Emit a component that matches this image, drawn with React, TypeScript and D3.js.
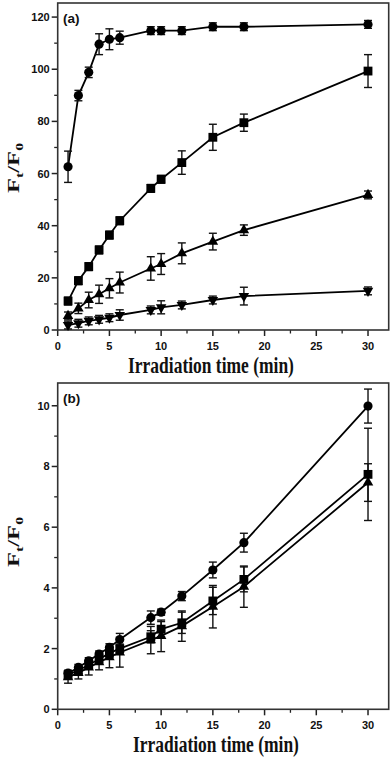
import React from "react";
import * as d3 from "d3";

// irradiation times (min)
const times = [1, 2, 3, 4, 5, 6, 9, 10, 12, 15, 18, 30];

// panel (a)
const circleA = [62.6, 89.9, 98.8, 109.6, 111.5, 112.1, 114.8, 114.8, 114.8, 116.3, 116.3, 117.2];
const circleAErr = [6, 2, 2, 4, 4, 2.5, 1.5, 1.5, 1.5, 1.5, 1.5, 1.5];
const squareA = [11.1, 18.9, 24.3, 30.7, 36.4, 41.9, 54.3, 57.8, 64.2, 73.9, 79.5, 99.3];
const squareAErr = [1.5, 1.5, 1.5, 1.5, 1.5, 1.5, 1.5, 1.5, 4.5, 5, 3.3, 6.3];
const triangleA = [5.4, 8.3, 11.5, 13.7, 16.0, 18.2, 23.6, 25.3, 29.4, 33.9, 38.3, 51.8];
const triangleAErr = [1.5, 2, 3, 3.5, 3.7, 4, 4.5, 4, 4, 3.2, 2, 1.5];
const invTriA = [1.9, 2.6, 3.5, 4.1, 4.7, 5.75, 7.7, 8.7, 9.6, 11.5, 13.0, 15.0];
const invTriAErr = [1.5, 1.5, 1.5, 1.5, 1.5, 2, 1.5, 2.5, 1.5, 1.5, 3.4, 1.5];

// panel (b)
const circleB = [1.19, 1.38, 1.6, 1.82, 2.04, 2.3, 3.02, 3.2, 3.73, 4.59, 5.49, 9.99];
const circleBErr = [0.1, 0.1, 0.1, 0.1, 0.12, 0.2, 0.22, 0.1, 0.15, 0.26, 0.31, 0.56];
const squareB = [1.14, 1.28, 1.47, 1.65, 1.85, 2.0, 2.39, 2.64, 2.85, 3.57, 4.28, 7.74];
const squareBErr = [0.1, 0.1, 0.1, 0.12, 0.15, 0.15, 0.2, 0.25, 0.35, 0.45, 0.41, 1.52];
const triangleB = [1.06, 1.2, 1.38, 1.55, 1.72, 1.87, 2.28, 2.42, 2.74, 3.38, 4.04, 7.47];
const triangleBErr = [0.2, 0.2, 0.25, 0.25, 0.35, 0.48, 0.45, 0.52, 0.5, 0.7, 0.68, 0.62];

const xTicks = [0, 5, 10, 15, 20, 25, 30];
const xMinor = [2.5, 7.5, 12.5, 17.5, 22.5, 27.5];
const yTicksA = [0, 20, 40, 60, 80, 100, 120];
const yMinorA = [10, 30, 50, 70, 90, 110];
const yTicksB = [0, 2, 4, 6, 8, 10];
const yMinorB = [1, 3, 5, 7, 9];

const W = 392;
const H = 763;
const tickFont = "'Liberation Sans', Arial, sans-serif";
const serif = "'Liberation Serif', 'Times New Roman', serif";

const symbols = {
  circle: d3.symbol().type(d3.symbolCircle).size(66)(),
  square: d3.symbol().type(d3.symbolSquare).size(78)(),
  triangle: d3.symbol().type(d3.symbolTriangle).size(48)(),
};

type Series = { vals: number[]; err: number[]; shape: string };

const Panel = ({ top, bottom, yMax, yTicks, yMinor, series, tag, yLabelY, titleX }) => {
  const left = 57.7;
  const right = 388.7;
  const x = d3.scaleLinear().domain([0, 32]).range([left, right]);
  const y = d3.scaleLinear().domain([0, yMax]).range([bottom, top]);
  const line = d3
    .line<number>()
    .x((d, i) => x(times[i]))
    .y((d) => y(d));

  return (
    <g>
      {/* axis ticks */}
      {xTicks.map((t) => (
        <g key={"xt" + t}>
          <line x1={x(t)} x2={x(t)} y1={bottom} y2={bottom + 6} stroke="#222" strokeWidth={1.5} />
          <text x={x(t)} y={bottom + 19.5} textAnchor="middle" fontFamily={tickFont} fontWeight="bold" fontSize={11} fill="#111">
            {t}
          </text>
        </g>
      ))}
      {xMinor.map((t) => (
        <line key={"xm" + t} x1={x(t)} x2={x(t)} y1={bottom} y2={bottom + 3.5} stroke="#222" strokeWidth={1.3} />
      ))}
      {yTicks.map((t) => (
        <g key={"yt" + t}>
          <line x1={left - 6} x2={left} y1={y(t)} y2={y(t)} stroke="#222" strokeWidth={1.5} />
          <text x={left - 8} y={y(t) + 4} textAnchor="end" fontFamily={tickFont} fontWeight="bold" fontSize={11} fill="#111">
            {t}
          </text>
        </g>
      ))}
      {yMinor.map((t) => (
        <line key={"ym" + t} x1={left - 3.5} x2={left} y1={y(t)} y2={y(t)} stroke="#222" strokeWidth={1.3} />
      ))}

      <rect x={left} y={top} width={right - left} height={bottom - top} fill="none" stroke="#333" strokeWidth={1.6} />

      {series.map((s: Series, k: number) => (
        <path key={"l" + k} d={line(s.vals) || ""} fill="none" stroke="#000" strokeWidth={1.8} />
      ))}

      {/* error bars */}
      {series.map((s: Series, k: number) =>
        s.vals.map((v, i) => {
          const cx = x(times[i]);
          const y0 = y(v - s.err[i]);
          const y1 = y(v + s.err[i]);
          return (
            <g key={"e" + k + "-" + i} stroke="#111" strokeWidth={1.4}>
              <line x1={cx} x2={cx} y1={y0} y2={y1} />
              <line x1={cx - 4} x2={cx + 4} y1={y0} y2={y0} />
              <line x1={cx - 4} x2={cx + 4} y1={y1} y2={y1} />
            </g>
          );
        })
      )}

      {series.map((s: Series, k: number) =>
        s.vals.map((v, i) => {
          const shape = s.shape === "invTriangle" ? symbols.triangle : symbols[s.shape];
          const rot = s.shape === "invTriangle" ? " rotate(180)" : "";
          return (
            <path
              key={"m" + k + "-" + i}
              d={shape || ""}
              transform={`translate(${x(times[i])},${y(v)})${rot}`}
              fill="#000"
            />
          );
        })
      )}

      <text x={63} y={top + 20} fontFamily={tickFont} fontWeight="bold" fontSize={13.5} fill="#111">
        {tag}
      </text>

      {/* y title */}
      <text
        transform={`translate(18.5,${yLabelY}) rotate(-90) scale(1.45,1)`}
        textAnchor="middle"
        fontFamily={serif}
        fontWeight="bold"
        fontSize={17}
        fill="#111"
      >
        F<tspan fontSize={11} dy={4}>t</tspan>
        <tspan dy={-4}>/F</tspan>
        <tspan fontSize={11} dy={4}>0</tspan>
      </text>

      {/* x title */}
      <text
        transform={`translate(${titleX},${bottom + 43}) scale(0.76,1)`}
        textAnchor="middle"
        fontFamily={serif}
        fontWeight="bold"
        fontSize={23}
        fill="#111"
      >
        Irradiation time (min)
      </text>
    </g>
  );
};

const seriesA: Series[] = [
  { vals: circleA, err: circleAErr, shape: "circle" },
  { vals: squareA, err: squareAErr, shape: "square" },
  { vals: triangleA, err: triangleAErr, shape: "triangle" },
  { vals: invTriA, err: invTriAErr, shape: "invTriangle" },
];

const seriesB: Series[] = [
  { vals: circleB, err: circleBErr, shape: "circle" },
  { vals: squareB, err: squareBErr, shape: "square" },
  { vals: triangleB, err: triangleBErr, shape: "triangle" },
];

export default function App() {
  return (
    <svg
      width={W}
      height={H}
      style={{ position: "absolute", left: 0, top: 0, background: "#fff" }}
    >
      <Panel
        top={3}
        bottom={330}
        yMax={125.4}
        yTicks={yTicksA}
        yMinor={yMinorA}
        series={seriesA}
        tag="(a)"
        yLabelY={168}
        titleX={211}
      />
      <Panel
        top={383}
        bottom={709.3}
        yMax={10.75}
        yTicks={yTicksB}
        yMinor={yMinorB}
        series={seriesB}
        tag="(b)"
        yLabelY={542}
        titleX={216}
      />
    </svg>
  );
}
